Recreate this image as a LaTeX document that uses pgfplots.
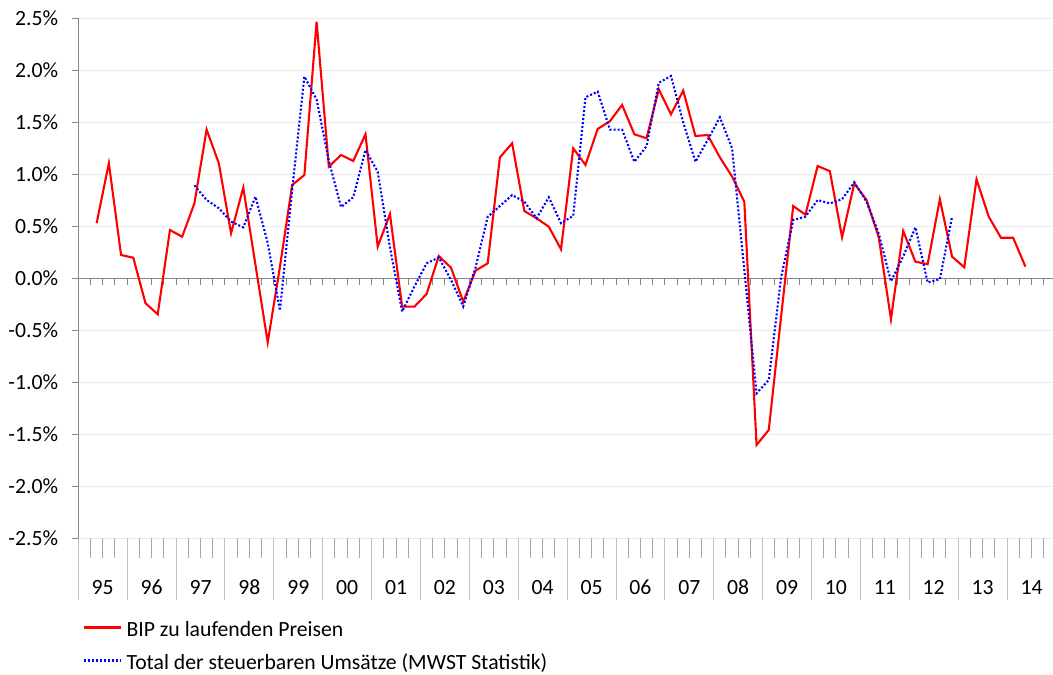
\documentclass[border=0pt]{standalone}
\usepackage{pgfplots}
\pgfplotsset{compat=1.18}
\usepackage{fontspec}
\setmainfont{Carlito}
\definecolor{axisgray}{HTML}{868686}
\definecolor{gridgray}{HTML}{EBEBEB}
\definecolor{yeargray}{HTML}{BFBFBF}
\definecolor{qgray}{HTML}{A6A6A6}
\begin{document}
\fontsize{21.7pt}{26pt}\selectfont
\begin{tikzpicture}
\path[use as bounding box] (0pt,0pt) rectangle (1053pt,675pt);
\begin{axis}[
  at={(78.3pt,136.7pt)}, anchor=south west,
  scale only axis, width=974.7pt, height=520pt,
  xmin=-0.5, xmax=79.26, ymin=-2.5, ymax=2.5,
  clip=false,
  axis x line*=bottom, axis y line*=left,
  x axis line style={draw=none},
  y axis line style={draw=axisgray, line width=1.3pt, -},
  xtick={1.5,5.5,...,77.5},
  xticklabels={95,96,97,98,99,00,01,02,03,04,05,06,07,08,09,10,11,12,13,14},
  major x tick style={draw=none},
  xticklabel style={anchor=base, yshift=-49.3pt, inner sep=0pt},
  ytick={-2.5,-2,...,2.5},
  major y tick style={draw=axisgray, line width=1.3pt},
  major tick length=6.6pt, tick align=outside,
  yticklabel={\pgfmathprintnumber[fixed,fixed zerofill,precision=1]{\tick}\%},
  yticklabel style={anchor=east, inner sep=0pt, xshift=-13.4pt},
  /pgf/number format/assume math mode=true,
  ymajorgrids, grid style={draw=gridgray, line width=1pt},
  tick label style={font=\fontsize{21.7pt}{26pt}\selectfont},
  legend style={at={(axis description cs:0,-0.158)}, anchor=north west,
    draw=none, fill=none, inner xsep=4.4pt, inner ysep=0pt, row sep=11.3pt,
    font=\fontsize{21.7pt}{26pt}\selectfont,
    nodes={inner xsep=4.3pt, inner ysep=0pt, text height=16.3pt, text depth=5.4pt},
    cells={anchor=west}},
  legend image code/.code={\draw[#1] (0pt,4pt) -- (37.3pt,4pt);},
]
\draw[axisgray, line width=1.5pt] (axis cs:-0.5,0) -- (axis cs:79.26,0);
\pgfplotsinvokeforeach{-0.5,0.5,...,78.5}{\draw[axisgray, line width=1pt] (axis cs:#1,0) -- ++(0pt,-6.5pt);}
\pgfplotsinvokeforeach{-0.5,3.5,...,75.5}{\draw[yeargray, line width=1pt] (axis cs:#1,-2.5) -- ++(0pt,-62pt);}
\pgfplotsinvokeforeach{0.5,4.5,...,76.5}{\draw[qgray, line width=1pt] (axis cs:#1,-2.5) -- ++(0pt,-19.7pt);}
\pgfplotsinvokeforeach{1.5,5.5,...,77.5}{\draw[qgray, line width=1pt] (axis cs:#1,-2.5) -- ++(0pt,-19.7pt);}
\pgfplotsinvokeforeach{2.5,6.5,...,78.5}{\draw[qgray, line width=1pt] (axis cs:#1,-2.5) -- ++(0pt,-19.7pt);}
\addplot[color={rgb,255:red,255;green,0;blue,0}, line width=2.1pt, no markers] coordinates {
(1,0.53) (2,1.106) (3,0.224) (4,0.198) (5,-0.24) (6,-0.346) (7,0.464) (8,0.40)
(9,0.72) (10,1.43) (11,1.106) (12,0.433) (13,0.872) (14,0.128) (15,-0.615) (16,0.11)
(17,0.897) (18,0.993) (19,2.468) (20,1.074) (21,1.186) (22,1.128) (23,1.385) (24,0.304)
(25,0.618) (26,-0.273) (27,-0.273) (28,-0.151) (29,0.214) (30,0.102) (31,-0.225) (32,0.073)
(33,0.144) (34,1.163) (35,1.298) (36,0.647) (37,0.577) (38,0.496) (39,0.279) (40,1.25)
(41,1.09) (42,1.436) (43,1.51) (44,1.667) (45,1.385) (46,1.346) (47,1.817) (48,1.577)
(49,1.805) (50,1.368) (51,1.378) (52,1.163) (53,0.978) (54,0.737) (55,-1.603) (56,-1.458)
(57,-0.38) (58,0.695) (59,0.612) (60,1.08) (61,1.03) (62,0.394) (63,0.913) (64,0.753)
(65,0.394) (66,-0.394) (67,0.455) (68,0.16) (69,0.135) (70,0.76) (71,0.208) (72,0.106)
(73,0.952) (74,0.593) (75,0.39) (76,0.39) (77,0.112)
};
\addlegendentry{BIP zu laufenden Preisen}
\addplot[color={rgb,255:red,0;green,0;blue,255}, line width=2.1pt, dash pattern=on 2pt off 2pt, no markers] coordinates {
(9,0.894) (10,0.753) (11,0.673) (12,0.545) (13,0.49) (14,0.785) (15,0.34) (16,-0.31)
(17,0.85) (18,1.94) (19,1.72) (20,1.13) (21,0.685) (22,0.78) (23,1.234) (24,1.025)
(25,0.3) (26,-0.32) (27,-0.08) (28,0.144) (29,0.2) (30,-0.016) (31,-0.27) (32,0.1)
(33,0.59) (34,0.695) (35,0.8) (36,0.737) (37,0.577) (38,0.779) (39,0.53) (40,0.6)
(41,1.74) (42,1.795) (43,1.43) (44,1.43) (45,1.12) (46,1.27) (47,1.88) (48,1.945)
(49,1.5) (50,1.12) (51,1.33) (52,1.548) (53,1.25) (54,0.08) (55,-1.106) (56,-0.978)
(57,0.0) (58,0.56) (59,0.593) (60,0.753) (61,0.72) (62,0.76) (63,0.923) (64,0.737)
(65,0.43) (66,-0.03) (67,0.21) (68,0.49) (69,-0.04) (70,-0.01) (71,0.593)
};
\addlegendentry{Total der steuerbaren Umsätze (MWST Statistik)}
\end{axis}
\end{tikzpicture}
\end{document}
